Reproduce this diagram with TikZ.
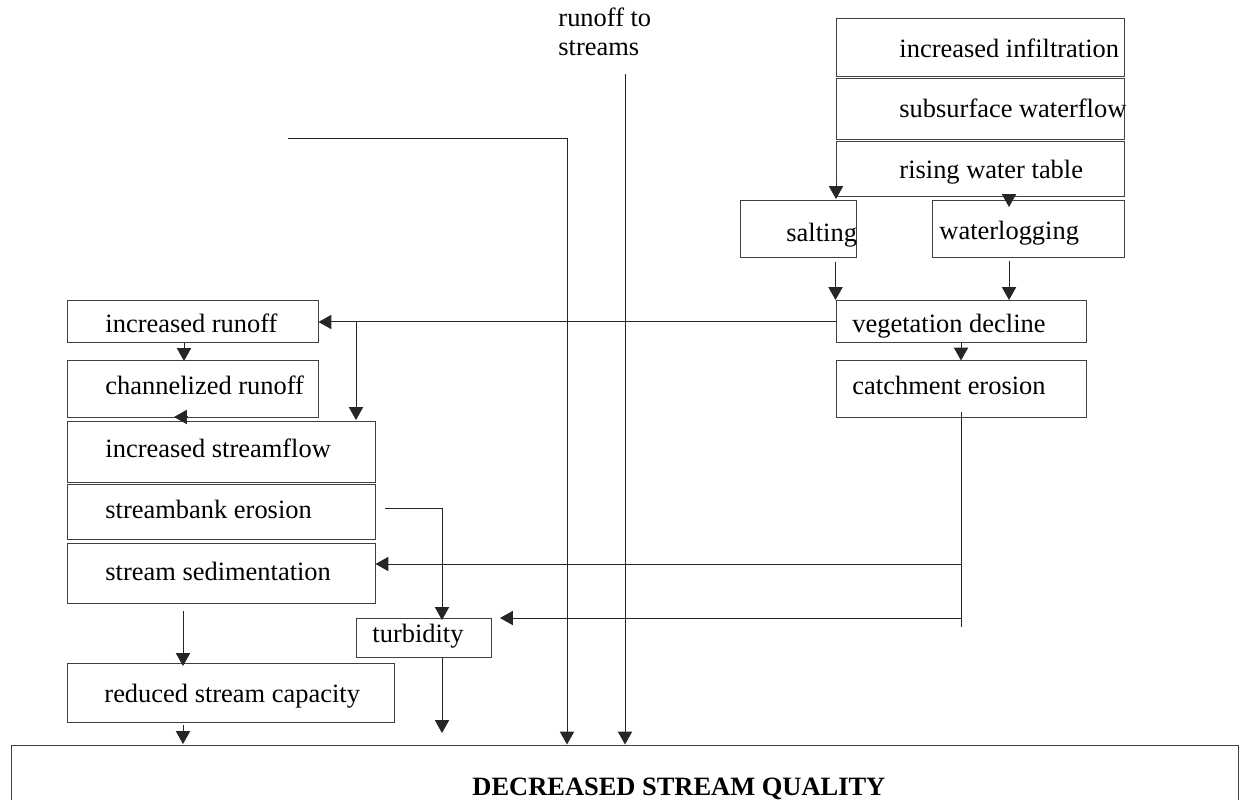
\documentclass[tikz,border=0pt]{standalone}
\usepackage{fontspec}
\setmainfont{Liberation Serif}
\usetikzlibrary{arrows.meta,fit}
\begin{document}
\begin{tikzpicture}[x=0.45pt,y=-0.45pt,
  box/.style={draw=black!75,line width=0.45pt,inner sep=0pt},
  lbl/.style={anchor=base west,inner sep=0pt,font=\fontsize{11.9}{14}\selectfont},
  ttl/.style={anchor=base west,inner sep=0pt,font=\fontsize{11.9}{14}\selectfont\bfseries},
  conn/.style={draw=black!85,line width=0.45pt},
  arr/.style={conn,-{Triangle[width=6.4pt,length=5.8pt]}}]
\useasboundingbox (0,0) rectangle (1240,800);
\clip (0,0) rectangle (1240,800);

% boxes
\node[box,fit={(836,19)(1124,77)}]   (inf)   {};
\node[box,fit={(836,79)(1124,140)}]  (sub)   {};
\node[box,fit={(836,142)(1124,197)}] (rwt)   {};
\node[box,fit={(740,201)(856,258)}]  (salt)  {};
\node[box,fit={(932,201)(1124,258)}] (wlog)  {};
\node[box,fit={(836,301)(1086,343)}] (veg)   {};
\node[box,fit={(836,361)(1086,418)}] (catch) {};
\node[box,fit={(67,301)(318,343)}]   (roff)  {};
\node[box,fit={(67,361)(318,418)}]   (chan)  {};
\node[box,fit={(67,422)(375,482)}]   (sflow) {};
\node[box,fit={(67,484)(375,539)}]   (sbank) {};
\node[box,fit={(67,543)(375,603)}]   (sed)   {};
\node[box,fit={(356,618)(491,657)}]  (turb)  {};
\node[box,fit={(67,663)(394,722)}]   (red)   {};
\node[box,fit={(11,745)(1238,840)}]  (dsq)   {};

% labels
\node[lbl] (tinf)   at (899,58)  {increased infiltration};
\node[lbl] (tsub)   at (899,118) {subsurface waterflow};
\node[lbl] (trwt)   at (899,179) {rising water table};
\node[lbl] (tsalt)  at (786,242) {salting};
\node[lbl] (twlog)  at (939,240) {waterlogging};
\node[lbl] (tveg)   at (852,333) {vegetation decline};
\node[lbl] (tcatch) at (852,395) {catchment erosion};
\node[lbl] (troff)  at (105,333) {increased runoff};
\node[lbl] (tchan)  at (105,395) {channelized runoff};
\node[lbl] (tsflow) at (105,457) {increased streamflow};
\node[lbl] (tsbank) at (105,518) {streambank erosion};
\node[lbl] (tsed)   at (105,580) {stream sedimentation};
\node[lbl] (tturb)  at (372,642) {turbidity};
\node[lbl] (tred)   at (104,702) {reduced stream capacity};
\node[lbl] (trts1)  at (558,27)  {runoff to};
\node[lbl] (trts2)  at (558,56)  {streams};
\node[ttl] (tdsq)   at (472,795) {DECREASED STREAM QUALITY};

% junction points and free ends
\coordinate (rtsTop) at (625,74);
\coordinate (upStart) at (288,139);
\coordinate (upBend) at (567,139);
\coordinate (ceEnd) at (961,627);
\coordinate (jSed) at (961,564);
\coordinate (jTurb) at (961,618);
\coordinate (turbIn) at (500,618);
\coordinate (branch) at (356,322);
\coordinate (sbStart) at (385,508);
\coordinate (sbBend) at (442,508);

% right-hand chain
\draw[arr] (836,183) -- (836,199);
\draw[arr] (1009,195) -- (1009,207);
\draw[arr] ([yshift=-1.5]salt.south -| veg.west) -- (veg.west |- 0,300);
\draw[arr] (1009,261) -- (1009,300);
\draw[arr] (veg.south) -- (catch.north);
\draw[conn] ([yshift=3]catch.south) -- (ceEnd);
\draw[arr] (jSed) -- (jSed -| sed.east);
\draw[arr] (jTurb) -- (turbIn);

% runoff branch
\draw[arr] (veg.west) -- (roff.east);
\draw[arr] (branch) -- (branch |- 0,420);
\draw[arr] (184,343) -- (184,361);
\draw[arr] (187,417) -- (174,417);

% streambank erosion to turbidity
\draw[arr] (sbStart) -- (sbBend) -- (sbBend |- 0,620);

% into the quality box
\draw[arr] (183,611) -- (183,666);
\draw[arr] (183,725) -- (183,744);
\draw[arr] (turb.south -| sbBend) -- (442,733);
\draw[arr] (upStart) -- (upBend) -- (upBend |- dsq.north);
\draw[arr] (rtsTop) -- (rtsTop |- dsq.north);
\end{tikzpicture}
\end{document}
